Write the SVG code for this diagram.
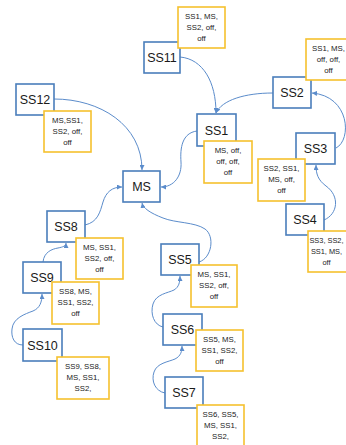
<svg xmlns="http://www.w3.org/2000/svg" width="346" height="445" viewBox="0 0 346 445">
<style>
.box{fill:#fff;stroke:#4a7ebb;stroke-width:1.6}
.lbl{fill:#fff;stroke:#f5c12e;stroke-width:1.6}
.name{font-family:"Liberation Sans",Arial,sans-serif;font-size:12.5px;fill:#1a1a1a;text-anchor:middle}
.txt{font-family:"Liberation Sans",Arial,sans-serif;font-size:7.8px;fill:#222;text-anchor:middle}
.c{fill:none;stroke:#5b8ccb;stroke-width:1;marker-end:url(#ah)}
</style>
<defs>
<marker id="ah" markerUnits="userSpaceOnUse" markerWidth="5" markerHeight="5" refX="5" refY="2.5" orient="auto">
<path d="M0,0 L5,2.5 L0,5 z" fill="#5b8ccb"/>
</marker>
</defs>
<rect width="346" height="445" fill="#fff"/>
<g id="connectors">
<path class="c" d="M180,57 C203,59 216,82 216,113"/>
<path class="c" d="M273,93 C245,93 222,100 216,113"/>
<path class="c" d="M336,148 C352,140 350,96 312,93"/>
<path class="c" d="M324,220 C338,214 340,196 326,186 C318,180 316,174 316,165"/>
<path class="c" d="M197,131 C182,133 180,148 181,162 C182,176 174,187 161,187"/>
<path class="c" d="M54,99 C100,99 142,125 142,170"/>
<path class="c" d="M85,225 C98,222 100,212 103,202 C106,192 112,187 122,187"/>
<path class="c" d="M199,262 C212,258 215,236 205,229 C195,222 175,223 163,218 C150,213 143,208 142,203"/>
<path class="c" d="M43,262 C44,252 52,249 58,248 C63,247 66,246 66,243"/>
<path class="c" d="M23,345 C14,345 11,337 12,329 C13,318 25,314 33,311 C40,308 42,302 42,294"/>
<path class="c" d="M163,327 C154,325 150,314 153,304 C156,294 168,293 174,290 C179,287 180,282 180,276"/>
<path class="c" d="M165,393 C155,391 151,381 154,372 C157,363 168,362 175,359 C181,356 182,351 182,346"/>
</g>
<g id="SS11"><rect class="box" x="144" y="42" width="36" height="31"/><text class="name" x="162" y="62">SS11</text>
<rect class="lbl" x="178" y="7" width="47" height="41"/><text class="txt"><tspan x="201.5" y="19">SS1, MS,</tspan><tspan x="201.5" y="30">SS2, off,</tspan><tspan x="201.5" y="41">off</tspan></text></g>
<g id="SS2"><rect class="box" x="273" y="77" width="38" height="31"/><text class="name" x="292" y="97">SS2</text>
<rect class="lbl" x="306" y="39" width="47" height="41"/><text class="txt"><tspan x="328.5" y="51">SS1, MS,</tspan><tspan x="328.5" y="62">off, off,</tspan><tspan x="328.5" y="73">off</tspan></text></g>
<g id="SS12"><rect class="box" x="16" y="84" width="38" height="31"/><text class="name" x="35" y="104">SS12</text>
<rect class="lbl" x="44" y="111" width="47" height="41"/><text class="txt"><tspan x="67.5" y="123">MS,SS1,</tspan><tspan x="67.5" y="134">SS2, off,</tspan><tspan x="67.5" y="145">off</tspan></text></g>
<g id="SS1"><rect class="box" x="197" y="114" width="39" height="32"/><text class="name" x="216.5" y="134.5">SS1</text>
<rect class="lbl" x="204" y="141" width="48" height="42"/><text class="txt"><tspan x="228" y="153">MS, off,</tspan><tspan x="228" y="164">off, off,</tspan><tspan x="228" y="175">off</tspan></text></g>
<g id="MS"><rect class="box" x="123" y="171" width="37" height="31"/><text class="name" x="141.5" y="191">MS</text></g>
<g id="SS3"><rect class="box" x="296" y="133" width="39" height="31"/><text class="name" x="315.5" y="153">SS3</text>
<rect class="lbl" x="258" y="159" width="47" height="42"/><text class="txt"><tspan x="281.5" y="171">SS2, SS1,</tspan><tspan x="281.5" y="182">MS, off,</tspan><tspan x="281.5" y="193">off</tspan></text></g>
<g id="SS4"><rect class="box" x="286" y="204" width="38" height="31"/><text class="name" x="305" y="224">SS4</text>
<rect class="lbl" x="308" y="231" width="47" height="41"/><text class="txt" style="font-size:7.4px"><tspan x="326.5" y="243">SS3, SS2,</tspan><tspan x="326.5" y="254">SS1, MS,</tspan><tspan x="326.5" y="265">off</tspan></text></g>
<g id="SS8"><rect class="box" x="47" y="211" width="38" height="31"/><text class="name" x="66" y="231">SS8</text>
<rect class="lbl" x="76" y="238" width="47" height="41"/><text class="txt"><tspan x="99.5" y="250">MS, SS1,</tspan><tspan x="99.5" y="261">SS2, off,</tspan><tspan x="99.5" y="272">off</tspan></text></g>
<g id="SS9"><rect class="box" x="23" y="262" width="38" height="31"/><text class="name" x="42" y="282">SS9</text>
<rect class="lbl" x="52" y="282" width="47" height="42"/><text class="txt"><tspan x="75.5" y="294">SS8, MS,</tspan><tspan x="75.5" y="305">SS1, SS2,</tspan><tspan x="75.5" y="316">off</tspan></text></g>
<g id="SS10"><rect class="box" x="23" y="329" width="39" height="32"/><text class="name" x="42.5" y="349.5">SS10</text>
<rect class="lbl" x="57" y="357" width="52" height="42"/><text class="txt"><tspan x="83" y="369">SS9, SS8,</tspan><tspan x="83" y="380">MS, SS1,</tspan><tspan x="83" y="391">SS2,</tspan></text></g>
<g id="SS5"><rect class="box" x="161" y="244" width="38" height="31"/><text class="name" x="180" y="264">SS5</text>
<rect class="lbl" x="191" y="265" width="46" height="42"/><text class="txt"><tspan x="214" y="277">MS, SS1,</tspan><tspan x="214" y="288">SS2, off,</tspan><tspan x="214" y="299">off</tspan></text></g>
<g id="SS6"><rect class="box" x="163" y="314" width="39" height="31"/><text class="name" x="182.5" y="334">SS6</text>
<rect class="lbl" x="196" y="330" width="47" height="41"/><text class="txt"><tspan x="219.5" y="342">SS5, MS,</tspan><tspan x="219.5" y="353">SS1, SS2,</tspan><tspan x="219.5" y="364">off</tspan></text></g>
<g id="SS7"><rect class="box" x="165" y="377" width="38" height="31"/><text class="name" x="184" y="397">SS7</text>
<rect class="lbl" x="197" y="405" width="47" height="45"/><text class="txt"><tspan x="220.5" y="417">SS6, SS5,</tspan><tspan x="220.5" y="428">MS, SS1,</tspan><tspan x="220.5" y="439">SS2,</tspan></text></g>
</svg>
